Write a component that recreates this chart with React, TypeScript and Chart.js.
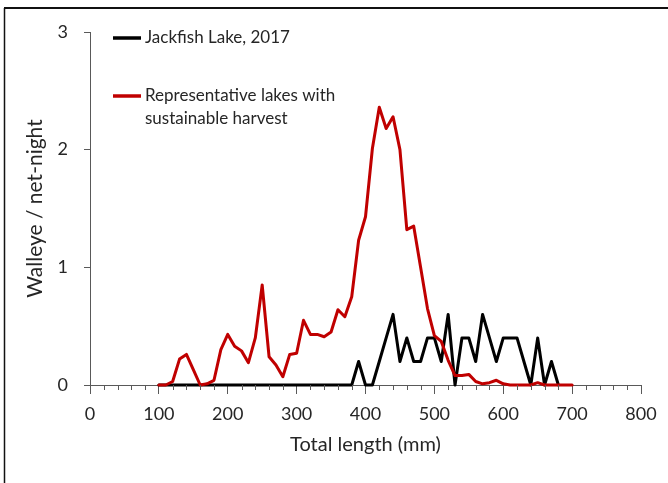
import React, { useEffect, useRef } from "react";
import { Chart, registerables } from "chart.js";

Chart.register(...registerables);

const lengths = [
  100, 110, 120, 130, 140, 150, 160, 170, 180, 190,
  200, 210, 220, 230, 240, 250, 260, 270, 280, 290,
  300, 310, 320, 330, 340, 350, 360, 370, 380, 390,
  400, 410, 420, 430, 440, 450, 460, 470, 480, 490,
  500, 510, 520, 530, 540, 550, 560, 570, 580, 590,
  600, 610, 620, 630, 640, 650, 660, 670, 680, 690, 700,
];

const representativeValues = [
  0, 0, 0.03, 0.22, 0.26, 0.13, 0, 0.01, 0.04, 0.3,
  0.43, 0.33, 0.29, 0.19, 0.4, 0.85, 0.24, 0.17, 0.07, 0.26,
  0.27, 0.55, 0.43, 0.43, 0.41, 0.45, 0.64, 0.58, 0.75, 1.23,
  1.43, 2.01, 2.36, 2.18, 2.28, 2.0, 1.32, 1.35, 1.0, 0.65,
  0.42, 0.37, 0.21, 0.08, 0.08, 0.09, 0.03, 0.01, 0.02, 0.04,
  0.01, 0, 0, 0, 0, 0.02, 0, 0, 0, 0, 0,
];

const jackfishValues = [
  0, 0, 0, 0, 0, 0, 0, 0, 0, 0,
  0, 0, 0, 0, 0, 0, 0, 0, 0, 0,
  0, 0, 0, 0, 0, 0, 0, 0, 0, 0.2,
  0, 0, 0.2, 0.4, 0.6, 0.2, 0.4, 0.2, 0.2, 0.4,
  0.4, 0.2, 0.6, 0, 0.4, 0.4, 0.2, 0.6, 0.4, 0.2,
  0.4, 0.4, 0.4, 0.2, 0, 0.4, 0, 0.2, 0,
];

const xTicks = [0, 100, 200, 300, 400, 500, 600, 700, 800];
const yTicks = [0, 1, 2, 3];

const legendLabels = ["Jackfish Lake, 2017", "Representative lakes with", "sustainable harvest"];
const xTitle = "Total length (mm)";
const yTitle = "Walleye / net-night";

const FONT = "Lato, 'Open Sans', sans-serif";
const AXIS_COLOR = "#595959";
const TEXT_COLOR = "#262626";
const RED = "#c00000";

export default function App() {
  const ref = useRef<HTMLCanvasElement | null>(null);

  useEffect(() => {
    document.body.style.margin = "0";
    const canvas = ref.current;
    if (!canvas) return;

    const frame = {
      id: "frame",
      beforeDraw(chart: any) {
        const c = chart.ctx;
        c.save();
        c.strokeStyle = "#111";
        c.lineWidth = 2;
        c.beginPath();
        c.moveTo(4, 8);
        c.lineTo(668, 8);
        c.stroke();
        c.lineWidth = 1.5;
        c.beginPath();
        c.moveTo(4.5, 8);
        c.lineTo(4.5, 483);
        c.stroke();
        c.restore();
      },
    };

    const minorTicks = {
      id: "minorTicks",
      afterDraw(chart: any) {
        const c = chart.ctx;
        const xs = chart.scales.x;
        const bottom = chart.chartArea.bottom;
        c.save();
        c.strokeStyle = AXIS_COLOR;
        c.lineWidth = 1;
        for (let v = 0; v <= 800; v += 20) {
          if (v % 100 === 0) continue;
          const px = Math.round(xs.getPixelForValue(v)) + 0.5;
          c.beginPath();
          c.moveTo(px, bottom);
          c.lineTo(px, bottom + 5);
          c.stroke();
        }
        c.restore();
      },
    };

    const legend = {
      id: "customLegend",
      afterDraw(chart: any) {
        const c = chart.ctx;
        c.save();
        c.lineWidth = 3.5;
        c.strokeStyle = "#000";
        c.beginPath();
        c.moveTo(113, 38);
        c.lineTo(141, 38);
        c.stroke();
        c.strokeStyle = RED;
        c.beginPath();
        c.moveTo(113, 96);
        c.lineTo(141, 96);
        c.stroke();
        c.fillStyle = TEXT_COLOR;
        c.font = `17px ${FONT}`;
        c.textBaseline = "middle";
        c.textAlign = "left";
        c.fillText(legendLabels[0], 145, 38);
        c.fillText(legendLabels[1], 145, 96);
        c.fillText(legendLabels[2], 145, 119);
        c.restore();
      },
    };

    const chart = new Chart(canvas, {
      type: "line",
      data: {
        datasets: [
          {
            label: legendLabels[0],
            data: jackfishValues.map((y, i) => ({ x: lengths[i], y })),
            borderColor: "#000",
            backgroundColor: "#000",
            borderWidth: 3,
            borderJoinStyle: "round",
            borderCapStyle: "round",
            pointRadius: 0,
            tension: 0,
            clip: false as any,
            order: 1,
          },
          {
            label: legendLabels[1] + " " + legendLabels[2],
            data: representativeValues.map((y, i) => ({ x: lengths[i], y })),
            borderColor: RED,
            backgroundColor: RED,
            borderWidth: 3,
            borderJoinStyle: "round",
            borderCapStyle: "round",
            pointRadius: 0,
            tension: 0,
            clip: false as any,
            order: 0,
          },
        ],
      },
      options: {
        responsive: false,
        animation: false,
        layout: { padding: { left: 0, right: 27, top: 32, bottom: 0 } },
        plugins: {
          legend: { display: false },
          tooltip: { enabled: false },
        },
        scales: {
          x: {
            type: "linear",
            min: xTicks[0],
            max: xTicks[xTicks.length - 1],
            afterBuildTicks(scale: any) {
              scale.ticks = xTicks.map((v) => ({ value: v }));
            },
            afterFit(scale: any) {
              scale.height = 98;
            },
            grid: {
              drawOnChartArea: false,
              drawTicks: true,
              tickLength: 9,
              color: AXIS_COLOR,
            },
            border: { color: AXIS_COLOR, width: 1 },
            ticks: {
              color: TEXT_COLOR,
              font: { family: FONT, size: 18 },
              padding: 9,
              maxRotation: 0,
            },
            title: {
              display: true,
              text: xTitle,
              color: TEXT_COLOR,
              font: { family: FONT, size: 20 },
              padding: { top: 0, bottom: 26 },
            },
          },
          y: {
            type: "linear",
            min: yTicks[0],
            max: yTicks[yTicks.length - 1],
            afterBuildTicks(scale: any) {
              scale.ticks = yTicks.map((v) => ({ value: v }));
            },
            afterFit(scale: any) {
              scale.width = 90;
            },
            grid: {
              drawOnChartArea: false,
              drawTicks: true,
              tickLength: 6,
              color: AXIS_COLOR,
            },
            border: { color: AXIS_COLOR, width: 1 },
            ticks: {
              color: TEXT_COLOR,
              font: { family: FONT, size: 18 },
              padding: 16,
            },
            title: {
              display: true,
              text: yTitle,
              color: TEXT_COLOR,
              font: { family: FONT, size: 21 },
              padding: { top: 23, bottom: 0 },
            },
          },
        },
      },
      plugins: [frame, minorTicks, legend],
    });

    return () => chart.destroy();
  }, []);

  return (
    <div style={{ width: 668, height: 483, background: "#fff" }}>
      <canvas ref={ref} width={668} height={483} style={{ display: "block" }} />
    </div>
  );
}
